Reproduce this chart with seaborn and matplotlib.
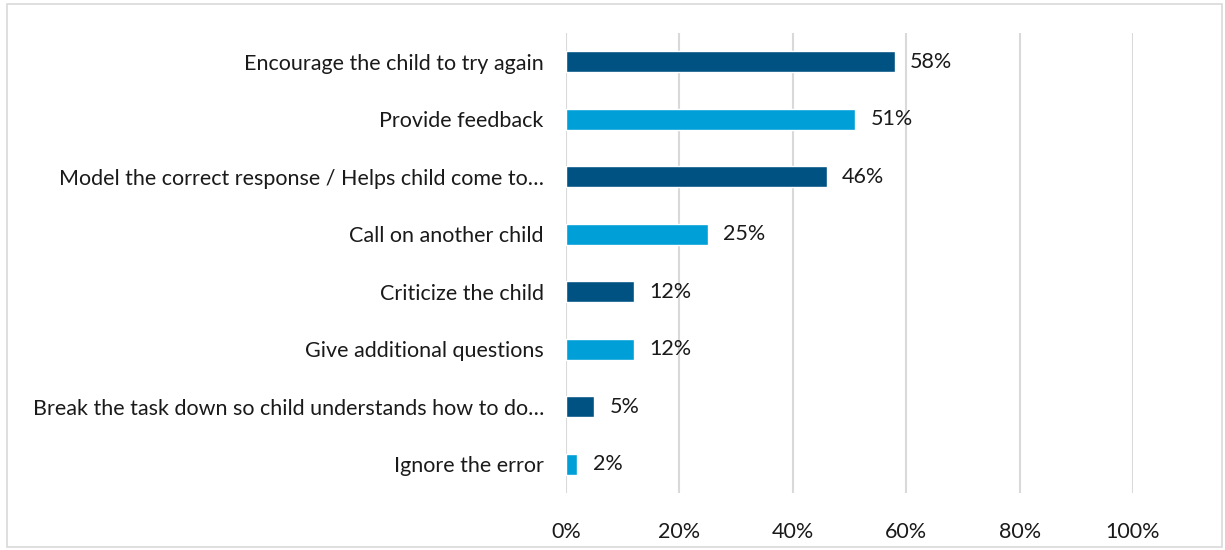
import matplotlib
matplotlib.use("Agg")
import matplotlib.pyplot as plt
import seaborn as sns
from matplotlib.patches import Rectangle
from matplotlib.ticker import FuncFormatter, MultipleLocator

categories = [
    "Encourage the child to try again",
    "Provide feedback",
    "Model the correct response / Helps child come to\u2026",
    "Call on another child",
    "Criticize the child",
    "Give additional questions",
    "Break the task down so child understands how to do\u2026",
    "Ignore the error",
]
values = [58, 51, 46, 25, 12, 12, 5, 2]
dark_blue = "#005282"
light_blue = "#009FD7"
colors = [dark_blue if i % 2 == 0 else light_blue for i in range(len(categories))]

sns.set_style("white")
plt.rcParams["font.family"] = ["Lato", "DejaVu Sans"]

W, H = 1225, 550
fig = plt.figure(figsize=(W / 100, H / 100), dpi=100)
ax = fig.add_axes([566 / W, 1 - 493 / H, (1133 - 566) / W, 460 / H])

sns.barplot(x=values, y=categories, hue=categories, palette=colors,
            legend=False, width=0.37, ax=ax, orient="h", saturation=1)

ax.set_xlim(0, 100)
ax.set_ylim(7.5, -0.5)
ax.xaxis.set_major_locator(MultipleLocator(20))
ax.xaxis.set_major_formatter(FuncFormatter(lambda v, p: f"{v:.0f}%"))
ax.grid(axis="x", color="#D9D9D9", linewidth=1.5)
ax.grid(axis="y", visible=False)
ax.set_axisbelow(True)
for s in ax.spines.values():
    s.set_visible(False)
ax.tick_params(axis="x", length=0, pad=21, labelsize=15.5, labelcolor="#1a1a1a")
ax.tick_params(axis="y", length=0, pad=16, labelsize=15.5, labelcolor="#1a1a1a")
ax.set_xlabel("")
ax.set_ylabel("")

for cont in ax.containers:
    ax.bar_label(cont, fmt="%d%%", padding=11, fontsize=15.5, color="#1a1a1a")

fig.patches.append(Rectangle((7 / W, 1 - 547 / H), 1215 / W, 543 / H,
                             transform=fig.transFigure, fill=False,
                             edgecolor="#D9D9D9", linewidth=1.2))

fig.savefig("out.png", dpi=100)
